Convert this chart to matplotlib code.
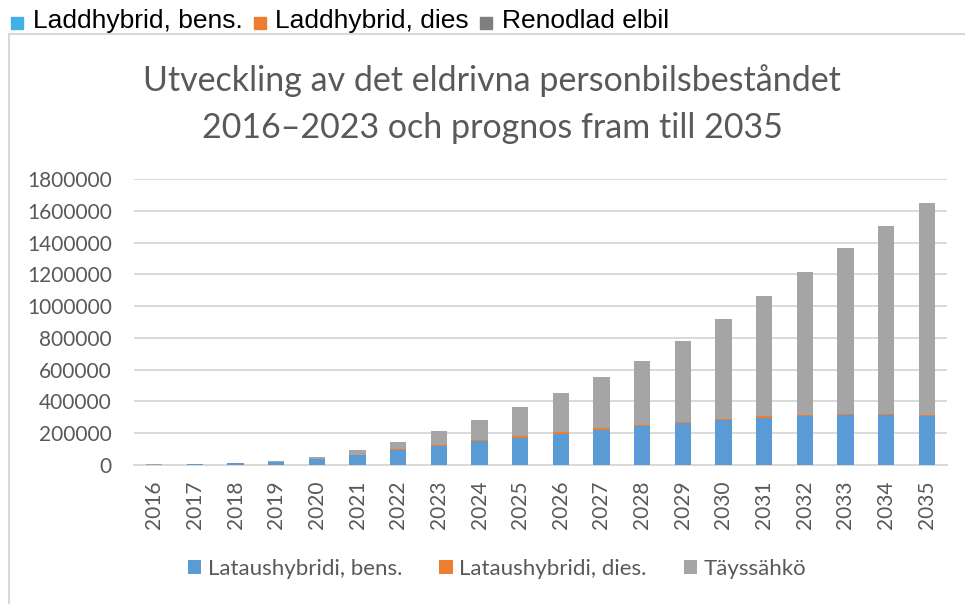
import matplotlib
matplotlib.use("Agg")
import matplotlib.pyplot as plt
import numpy as np
from matplotlib.patches import Rectangle

# --- data ---
years = [str(y) for y in range(2016, 2036)]
bens = [2000, 3500, 10000, 17000, 36000, 61000, 93000, 122000, 149000, 172000,
        198000, 223000, 244000, 265000, 282000, 298000, 307000, 313000, 313000, 307000]
dies = [500, 600, 1000, 1500, 4000, 5000, 6000, 7000, 7500, 8000,
        8000, 8000, 8000, 8000, 8000, 8000, 8000, 8000, 8000, 8000]
total = [4000, 5000, 14700, 23000, 48000, 95000, 145000, 212000, 284000, 363000,
         454000, 551000, 656000, 778000, 921000, 1066000, 1216000, 1363000, 1506000, 1649000]
full = [t - b - d for t, b, d in zip(total, bens, dies)]

series_fi = ["Lataushybridi, bens.", "Lataushybridi, dies.", "Täyssähkö"]
series_sv = ["Laddhybrid, bens.", "Laddhybrid, dies", "Renodlad elbil"]
title_lines = ["Utveckling av det eldrivna personbilsbeståndet",
               "2016–2023 och prognos fram till 2035"]

c_chart = ["#5B9BD5", "#ED7D31", "#A5A5A5"]
c_top = ["#41B0E4", "#ED7D31", "#7F7F7F"]
txt = "#595959"

fig = plt.figure(figsize=(9.65, 6.04), dpi=100)

# outer chart frame (cropped at right and bottom)
fig.add_artist(Rectangle((9 / 965, -0.05), 1.0, 1 - 34 / 604 + 0.05,
                         transform=fig.transFigure, fill=False,
                         edgecolor="#D9D9D9", linewidth=1.5))

ax = fig.add_axes([134 / 965, 1 - 465 / 604, 813 / 965, (465 - 179) / 604])
x = np.arange(len(years))
w = 0.4
ax.bar(x, bens, w, color=c_chart[0], label=series_fi[0], zorder=3)
ax.bar(x, dies, w, bottom=bens, color=c_chart[1], label=series_fi[1], zorder=3)
ax.bar(x, full, w, bottom=[b + d for b, d in zip(bens, dies)],
       color=c_chart[2], label=series_fi[2], zorder=3)

ax.set_xlim(-0.5, len(years) - 0.5)
ax.set_ylim(0, 1800000)
ax.set_yticks(range(0, 1800001, 200000))
ax.set_yticklabels([str(v) for v in range(0, 1800001, 200000)])
ax.set_xticks(x)
ax.set_xticklabels(years, rotation=90)
ax.grid(axis="y", color="#D9D9D9", linewidth=1.4, zorder=0)
for s in ["top", "right", "left"]:
    ax.spines[s].set_visible(False)
ax.spines["bottom"].set_color("#D9D9D9")
ax.spines["bottom"].set_linewidth(1.4)
ax.tick_params(axis="y", length=0, pad=16, labelsize=15, labelcolor=txt, labelfontfamily="Lato")
ax.tick_params(axis="x", length=0, pad=11, labelsize=15, labelcolor=txt, labelfontfamily="Lato")

for line, ypix in zip(title_lines, [81, 128]):
    fig.text(492 / 965, 1 - ypix / 604, line, ha="center", va="center",
             fontsize=24.5, color=txt, family="Lato")

leg = fig.legend(loc="center", bbox_to_anchor=(497 / 965, 1 - 569 / 604), ncol=3,
                 frameon=False, prop={"family": "Lato", "size": 16},
                 handlelength=0.6, handleheight=0.6, handletextpad=0.3,
                 columnspacing=1.67)
for t in leg.get_texts():
    t.set_color(txt)

# cropped top legend strip
sq_x = [11, 254, 480]
tx_x = [33, 275, 502]
for name, col, sx, tx in zip(series_sv, c_top, sq_x, tx_x):
    fig.add_artist(Rectangle((sx / 965, 1 - 29 / 604), 12 / 965, 12 / 604,
                             transform=fig.transFigure, color=col))
    fig.text(tx / 965, 1 - 21 / 604, name, ha="left", va="center",
             fontsize=19, family="Liberation Sans", color="black")

fig.savefig("out.png", dpi=100)
